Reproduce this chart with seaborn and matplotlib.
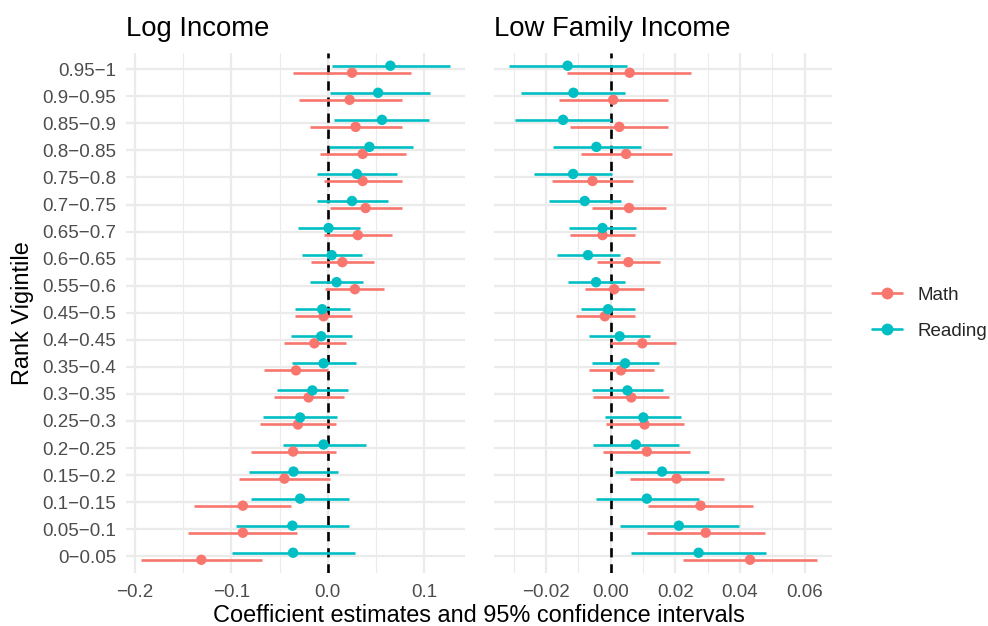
import numpy as np
import pandas as pd
import matplotlib
matplotlib.use("Agg")
import matplotlib.pyplot as plt
from matplotlib.lines import Line2D
from matplotlib.ticker import FixedLocator
import seaborn as sns

# Rank vigintiles, bottom to top
vigintiles = ["0\u22120.05", "0.05\u22120.1", "0.1\u22120.15", "0.15\u22120.2", "0.2\u22120.25",
              "0.25\u22120.3", "0.3\u22120.35", "0.35\u22120.4", "0.4\u22120.45", "0.45\u22120.5",
              "0.55\u22120.6", "0.6\u22120.65", "0.65\u22120.7", "0.7\u22120.75", "0.75\u22120.8",
              "0.8\u22120.85", "0.85\u22120.9", "0.9\u22120.95", "0.95\u22121"]

subjects = ["Math", "Reading"]
panels = ["Log Income", "Low Family Income"]

# Log Income coefficients
log_math_est = [-0.131, -0.088, -0.088, -0.045, -0.036, -0.031, -0.020, -0.033, -0.014, -0.0045,
                0.028, 0.015, 0.031, 0.039, 0.036, 0.036, 0.0287, 0.0225, 0.025]
log_math_lo = [-0.193, -0.145, -0.139, -0.0916, -0.0795, -0.070, -0.056, -0.066, -0.0456, -0.034,
               -0.003, -0.017, -0.004, 0.0024, -0.0045, -0.008, -0.019, -0.030, -0.036]
log_math_hi = [-0.0685, -0.0315, -0.038, 0.002, 0.0086, 0.0083, 0.0166, -0.0003, 0.0187, 0.025,
               0.058, 0.048, 0.066, 0.077, 0.077, 0.081, 0.077, 0.0764, 0.086]
log_read_est = [-0.036, -0.0367, -0.0287, -0.0356, -0.0045, -0.0287, -0.016, -0.0045, -0.0069, -0.0059,
                0.009, 0.004, 0.0007, 0.025, 0.030, 0.043, 0.056, 0.052, 0.0647]
log_read_lo = [-0.099, -0.095, -0.0795, -0.082, -0.0467, -0.0667, -0.0526, -0.037, -0.038, -0.034,
               -0.018, -0.027, -0.031, -0.0114, -0.011, 0.0014, 0.006, 0.002, 0.004]
log_read_hi = [0.0277, 0.0218, 0.022, 0.0107, 0.039, 0.0097, 0.021, 0.029, 0.0245, 0.023,
               0.036, 0.035, 0.033, 0.0626, 0.072, 0.088, 0.105, 0.106, 0.126]

# Low Family Income coefficients
low_math_est = [0.0431, 0.0294, 0.0278, 0.0204, 0.0112, 0.0105, 0.0064, 0.0032, 0.0098, -0.0018,
                0.0011, 0.0055, -0.0025, 0.0057, -0.0056, 0.0048, 0.0027, 0.0008, 0.0059]
low_math_lo = [0.0224, 0.0112, 0.0116, 0.0059, -0.0023, -0.0015, -0.0053, -0.0066, -0.0002, -0.0108,
               -0.0079, -0.0041, -0.0126, -0.0058, -0.018, -0.0092, -0.0126, -0.0159, -0.0134]
low_math_hi = [0.0637, 0.0476, 0.0441, 0.0351, 0.0247, 0.0227, 0.0182, 0.0133, 0.0201, 0.0074,
               0.0102, 0.0152, 0.0076, 0.0172, 0.0068, 0.0189, 0.0179, 0.0176, 0.0249]
low_read_est = [0.0272, 0.0211, 0.0112, 0.0159, 0.0078, 0.0101, 0.0052, 0.0045, 0.0028, -0.0008,
                -0.0045, -0.007, -0.0025, -0.008, -0.0116, -0.0044, -0.0147, -0.0115, -0.0133]
low_read_lo = [0.0064, 0.0028, -0.0046, 0.0015, -0.0055, -0.0016, -0.0058, -0.0058, -0.0066, -0.0092,
               -0.0133, -0.0165, -0.0128, -0.0192, -0.0237, -0.0179, -0.0295, -0.0278, -0.0313]
low_read_hi = [0.0481, 0.0397, 0.0272, 0.0304, 0.0213, 0.0219, 0.0161, 0.0149, 0.0123, 0.0076,
               0.0044, 0.0028, 0.0077, 0.0032, 0.0003, 0.0093, 0.0, 0.0046, 0.0050]

# Axis ticks per panel
log_major = [-0.2, -0.1, 0.0, 0.1]
log_minor = [-0.15, -0.05, 0.05]
log_labels = ["\u22120.2", "\u22120.1", "0.0", "0.1"]
low_major = [-0.02, 0.0, 0.02, 0.04, 0.06]
low_minor = [-0.03, -0.01, 0.01, 0.03, 0.05]
low_labels = ["\u22120.02", "0.00", "0.02", "0.04", "0.06"]

palette = {"Math": "#F8766D", "Reading": "#00BFC4"}
dodge = {"Math": -0.13, "Reading": 0.13}

rows = []
series = {
    ("Log Income", "Math"): (log_math_est, log_math_lo, log_math_hi),
    ("Log Income", "Reading"): (log_read_est, log_read_lo, log_read_hi),
    ("Low Family Income", "Math"): (low_math_est, low_math_lo, low_math_hi),
    ("Low Family Income", "Reading"): (low_read_est, low_read_lo, low_read_hi),
}
for (panel, subj), (est, lo, hi) in series.items():
    for i, v in enumerate(vigintiles):
        rows.append(dict(panel=panel, subject=subj, vigintile=v, idx=i,
                         estimate=est[i], lo=lo[i], hi=hi[i]))
df = pd.DataFrame(rows)
df["ypos"] = df["idx"] + df["subject"].map(dodge)

sns.set_theme(style="whitegrid")
plt.rcParams["font.family"] = ["Liberation Sans", "DejaVu Sans"]

fig = plt.figure(figsize=(9.88, 6.26), dpi=100)
fig.patch.set_facecolor("white")

x0, x1 = 126 / 988, 465 / 988
x2, x3 = 494 / 988, 832 / 988
ybot, ytop = 1 - 572.5 / 626, 1 - 53 / 626
axes = [fig.add_axes([x0, ybot, x1 - x0, ytop - ybot]),
        fig.add_axes([x2, ybot, x3 - x2, ytop - ybot])]

tick_specs = {"Log Income": (log_major, log_minor, log_labels),
              "Low Family Income": (low_major, low_minor, low_labels)}

for ax, panel in zip(axes, panels):
    sub = df[df["panel"] == panel]
    ax.set_facecolor("white")
    for s in ax.spines.values():
        s.set_visible(False)

    lo_all, hi_all = sub["lo"].min(), sub["hi"].max()
    pad = 0.05 * (hi_all - lo_all)
    ax.set_xlim(lo_all - pad, hi_all + pad)
    ax.set_ylim(-0.6, len(vigintiles) - 0.4)

    major, minor, labels = tick_specs[panel]
    ax.xaxis.set_major_locator(FixedLocator(major))
    ax.xaxis.set_minor_locator(FixedLocator(minor))
    ax.set_xticklabels(labels)
    ax.set_yticks(range(len(vigintiles)))
    ax.set_yticklabels(vigintiles)

    ax.grid(which="major", color="#EBEBEB", linewidth=1.6)
    ax.grid(which="minor", axis="x", color="#EBEBEB", linewidth=0.8)
    ax.set_axisbelow(True)
    ax.tick_params(axis="both", which="both", length=0, labelsize=13.5,
                   labelcolor="#4D4D4D")
    ax.tick_params(axis="x", pad=8.5)
    ax.tick_params(axis="y", pad=7)

    ax.axvline(0, color="black", linewidth=1.9, linestyle=(0, (3.5, 2.6)), zorder=1.5)

    for subj in subjects:
        g = sub[sub["subject"] == subj]
        ax.hlines(g["ypos"], g["lo"], g["hi"], color=palette[subj], linewidth=1.9, zorder=2)
    sns.scatterplot(data=sub, x="estimate", y="ypos", hue="subject", palette=palette,
                    hue_order=subjects, s=56, linewidth=0, legend=False, ax=ax, zorder=3)
    ax.set_xlabel("")
    ax.set_ylabel("")
    ax.set_title(panel, loc="left", fontsize=19.8, color="black", pad=12)

axes[1].tick_params(axis="y", labelleft=False)

fig.text((x0 + x3) / 2, 1 - 622.5 / 626, "Coefficient estimates and 95% confidence intervals",
         ha="center", va="baseline", fontsize=16.9, color="black")
fig.text(22 / 988, (ybot + ytop) / 2, "Rank Vigintile", rotation=90,
         ha="center", va="center", fontsize=16.9, color="black")

handles = [Line2D([0], [0], color=palette[s], linewidth=1.9, marker="o", markersize=7.5)
           for s in subjects]
fig.legend(handles, subjects, loc="center left", bbox_to_anchor=(866 / 988, 1 - 313 / 626),
           frameon=False, fontsize=13.5, handlelength=1.6, handletextpad=0.85,
           labelspacing=1.0, borderaxespad=0, borderpad=0.3)

fig.savefig("out.png", dpi=100, facecolor="white")
